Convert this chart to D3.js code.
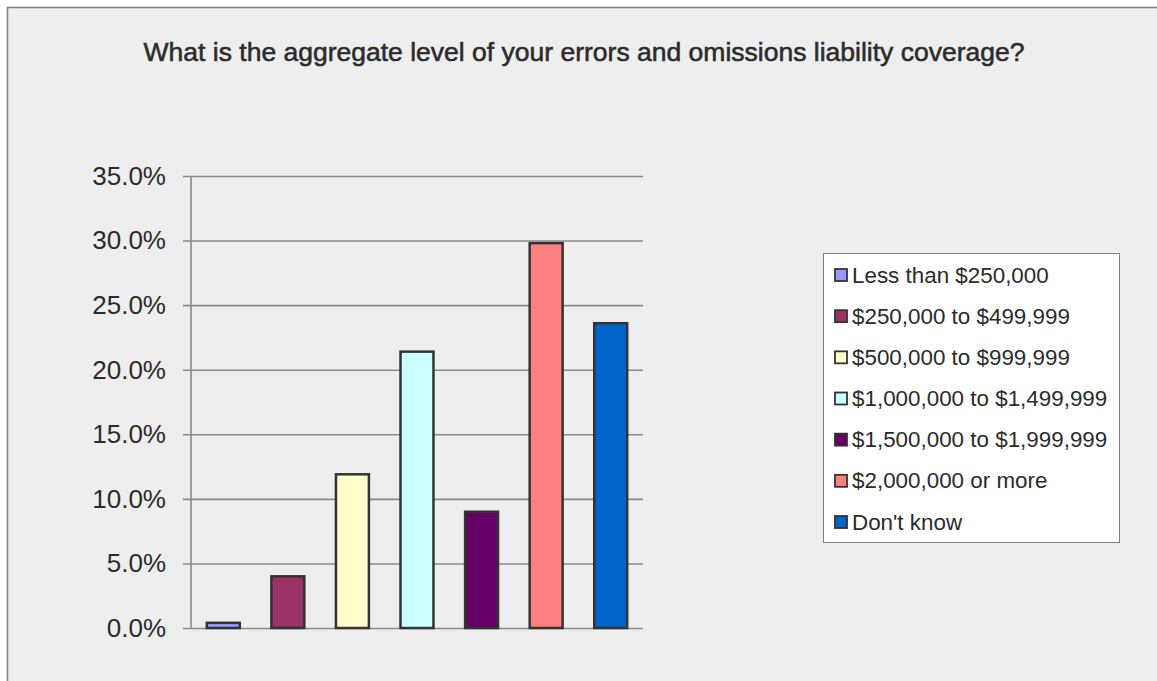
<!DOCTYPE html>
<html>
<head>
<meta charset="utf-8">
<script src="https://cdn.jsdelivr.net/npm/d3@7"></script>
<style>
  html, body { margin: 0; padding: 0; background: #ffffff; }
  svg { display: block; font-family: "Liberation Sans", Arial, sans-serif; }
</style>
</head>
<body>
<svg id="chart" width="1157" height="681"></svg>
<script>
// Survey answers: aggregate E&O liability coverage
const categories = [
  "Less than $250,000",
  "$250,000 to $499,999",
  "$500,000 to $999,999",
  "$1,000,000 to $1,499,999",
  "$1,500,000 to $1,999,999",
  "$2,000,000 or more",
  "Don't know"
];
const shares = [0.4, 4.0, 11.9, 21.4, 9.0, 29.8, 23.6];
const barColors = ["#9999FF", "#993366", "#FFFFCC", "#CCFFFF", "#660066", "#FF8080", "#0066CC"];
const yTicks = [0, 5, 10, 15, 20, 25, 30, 35];
const title = "What is the aggregate level of your errors and omissions liability coverage?";

const svg = d3.select("#chart");
const textColor = "#2b2b2b";
const gridColor = "#8a8a8a";

// chart area background and frame
svg.append("rect")
  .attr("x", 7.5).attr("y", 7.5)
  .attr("width", 1157).attr("height", 681)
  .attr("fill", "#eeeeee")
  .attr("stroke", "#808080").attr("stroke-width", 1.5);

svg.append("text")
  .attr("x", 584).attr("y", 61)
  .attr("text-anchor", "middle")
  .attr("font-size", 26.5)
  .attr("fill", textColor)
  .attr("stroke", textColor).attr("stroke-width", 0.55)
  .text(title);

const plot = { left: 191, right: 643, top: 176, bottom: 628 };

const x = d3.scaleBand()
  .domain(categories)
  .range([plot.left, plot.right])
  .paddingInner(0.49)
  .paddingOuter(0.245);

const y = d3.scaleLinear()
  .domain([0, 35])
  .range([plot.bottom, plot.top]);

// horizontal gridlines with tick labels
const yAxis = d3.axisLeft(y)
  .tickValues(yTicks)
  .tickSize(-(plot.right - plot.left))
  .tickSizeOuter(0)
  .tickPadding(17)
  .tickFormat(d => d.toFixed(1) + "%");

const gAxis = svg.append("g")
  .attr("transform", `translate(${plot.left},0)`)
  .call(yAxis);
gAxis.select(".domain").remove();
gAxis.selectAll(".tick line")
  .attr("x1", -8)
  .attr("stroke", gridColor).attr("stroke-width", 1.6);
gAxis.selectAll(".tick text")
  .attr("x", -25)
  .attr("font-size", 26)
  .attr("font-family", "'Liberation Sans', Arial, sans-serif")
  .attr("fill", textColor);

// vertical axis line
svg.append("line")
  .attr("x1", plot.left).attr("x2", plot.left)
  .attr("y1", y(35)).attr("y2", y(0))
  .attr("stroke", gridColor).attr("stroke-width", 1.6);

// bars
svg.append("g").selectAll("rect")
  .data(categories)
  .join("rect")
  .attr("x", d => x(d))
  .attr("width", x.bandwidth())
  .attr("y", (d, i) => y(shares[i]))
  .attr("height", (d, i) => y(0) - y(shares[i]))
  .attr("fill", (d, i) => barColors[i])
  .attr("stroke", "#333333").attr("stroke-width", 2.5);

// legend
const legend = svg.append("g");
legend.append("rect")
  .attr("x", 823.5).attr("y", 253.5)
  .attr("width", 296).attr("height", 289)
  .attr("fill", "#ffffff")
  .attr("stroke", "#808080").attr("stroke-width", 1);

const rowY = d3.scaleLinear().domain([0, 6]).range([274.5, 521.5]);
const items = legend.selectAll("g.item")
  .data(categories)
  .join("g")
  .attr("class", "item")
  .attr("transform", (d, i) => `translate(0,${rowY(i)})`);
items.append("rect")
  .attr("x", 835).attr("y", -5.5)
  .attr("width", 12).attr("height", 12)
  .attr("fill", (d, i) => barColors[i])
  .attr("stroke", "#333333").attr("stroke-width", 1.8);
items.append("text")
  .attr("x", 852)
  .attr("y", 8)
  .attr("font-size", 22.4)
  .attr("fill", textColor)
  .text(d => d);
</script>
</body>
</html>
